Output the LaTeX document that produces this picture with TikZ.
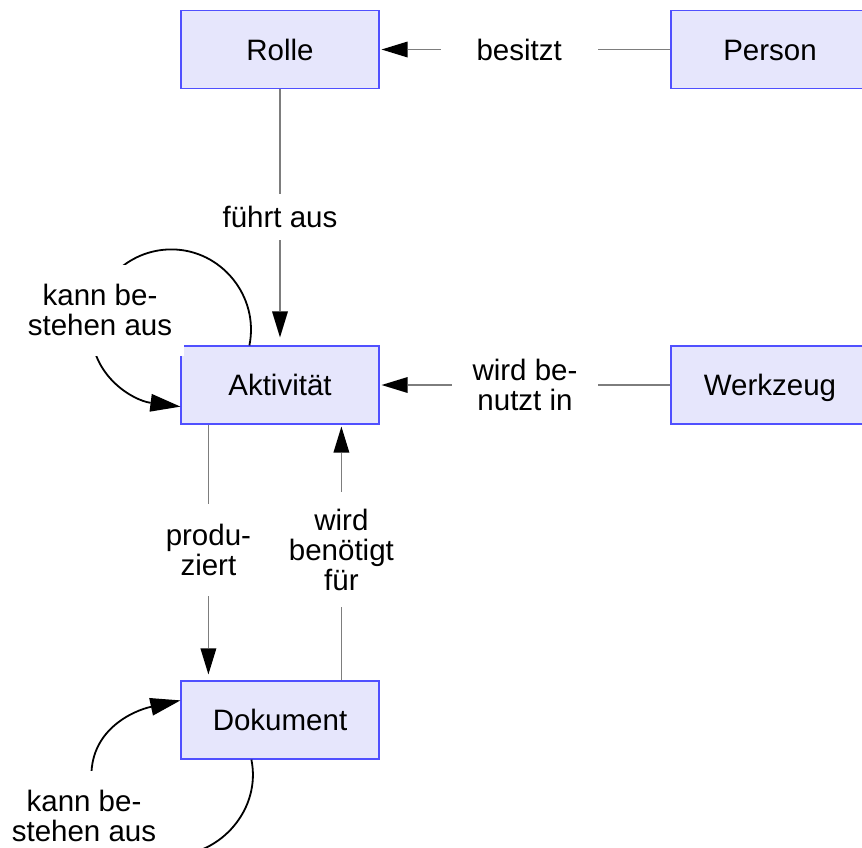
\documentclass[tikz,border=0pt]{standalone}
\usepackage{fontspec}
\setmainfont{Liberation Sans}
\usetikzlibrary{arrows.meta,calc}

\definecolor{boxfill}{RGB}{230,230,252}
\definecolor{boxline}{RGB}{80,80,255}
\definecolor{connline}{RGB}{125,125,125}

\tikzset{
  entity/.style={draw=boxline, fill=boxfill, line width=1.2pt,
    minimum width=198pt, minimum height=78pt, inner sep=0pt,
    text height=21.5pt, text depth=0pt,
    font=\fontsize{29.5}{31}\selectfont},
  conn/.style={draw=connline, line width=1.3pt,
    -{Triangle[length=26pt,width=16pt,black,line width=0pt]}},
  loopline/.style={draw=black, line width=1.8pt,
    -{Triangle[length=30pt,width=18pt,black,line width=0pt]}},
  lbl/.style={fill=white, inner xsep=12pt, inner ysep=12pt, align=center,
    font=\fontsize{29.5}{30}\selectfont},
}

\begin{document}
\begin{tikzpicture}[x=1pt,y=-1pt]
  \useasboundingbox[fill=white] (0,0) rectangle (862,847);

  % entities
  \node[entity] (rolle)  at (280,49.5) {Rolle};
  \node[entity] (person) at (770,49.5) {Person};
  \node[entity] (akt)    at (280,385)  {Aktivität};
  \node[entity] (werk)   at (770,385)  {Werkzeug};
  \node[entity] (dok)    at (280,720)  {Dokument};

  % relations
  \draw[conn, shorten >=2pt] (person.west) --
    node[lbl, pos=0.52, minimum width=157pt] {besitzt} (rolle.east);
  \draw[conn, shorten >=8pt] (rolle.south) --
    node[lbl] {führt aus} (akt.north);
  \draw[conn, shorten >=2pt] (werk.west) --
    node[lbl, minimum width=146pt] {wird be-\\nutzt in} (akt.east);
  \draw[conn, shorten >=6pt] ($(akt.south west)+(28,0)$) --
    node[lbl, minimum height=92pt, yshift=3pt] {produ-\\ziert}
    ($(dok.north west)+(28,0)$);
  \draw[conn, shorten >=2pt] ($(dok.north west)+(161,0)$) --
    node[lbl, minimum height=115pt, yshift=3pt] {wird\\benötigt\\für}
    ($(akt.south west)+(161,0)$);

  % self relations
  \draw[loopline] ($(akt.north west)+(69,0)$)
    .. controls +(10,-49) and +(50,0) .. ($(akt.north west)+(-9,-96)$)
    .. controls +(-44,0) and +(0,-44) .. ($(akt.north west)+(-89,-16)$)
    .. controls +(0,47) and +(-47,-6) .. ($(akt.south west)+(0,-18)$);
  \draw[loopline] ($(dok.south west)+(71,0)$)
    .. controls +(10,49) and +(50,0) .. ($(dok.south west)+(-9,96)$)
    .. controls +(-44,0) and +(0,44) .. ($(dok.south west)+(-89,16)$)
    .. controls +(0,-47) and +(-46,10) .. ($(dok.north west)+(0,20)$);

  \node[lbl, minimum height=91pt] (aktself) at (100,310) {kann be-\\stehen aus};
  \node[lbl, minimum height=91pt] (dokself) at (84,816) {kann be-\\stehen aus};
\end{tikzpicture}
\end{document}
